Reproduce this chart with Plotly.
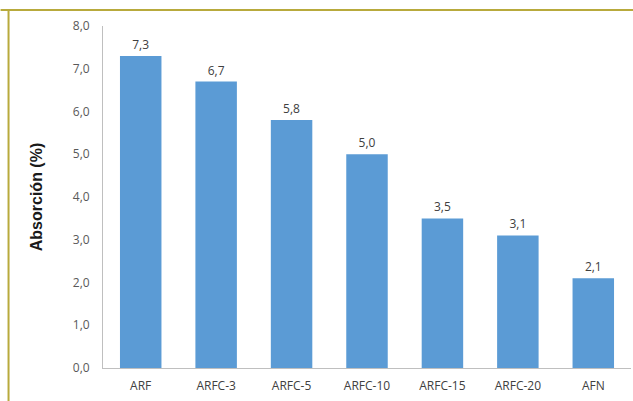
import plotly.graph_objects as go

categories = ["ARF", "ARFC-3", "ARFC-5", "ARFC-10", "ARFC-15", "ARFC-20", "AFN"]
values = [7.3, 6.7, 5.8, 5.0, 3.5, 3.1, 2.1]
labels = ["7,3", "6,7", "5,8", "5,0", "3,5", "3,1", "2,1"]
yticks = [0, 1, 2, 3, 4, 5, 6, 7, 8]
yticklabels = ["0,0", "1,0", "2,0", "3,0", "4,0", "5,0", "6,0", "7,0", "8,0"]

fig = go.Figure(go.Bar(
    x=categories, y=values, text=labels, textposition="outside",
    marker=dict(color="#5b9bd5", line=dict(width=0)),
    textfont=dict(size=12, color="#404040", family="Open Sans"),
    cliponaxis=False,
))

fig.update_layout(
    width=633, height=401,
    margin=dict(l=103, r=2, t=26, b=33),
    paper_bgcolor="white", plot_bgcolor="white",
    bargap=0.45,
    showlegend=False,
    font=dict(family="Open Sans", size=12, color="#595959"),
    xaxis=dict(showline=True, linecolor="#bfbfbf", linewidth=1, ticks="",
               ticklabelstandoff=7,
               tickfont=dict(size=12, color="#404040")),
    yaxis=dict(range=[0, 8], tickvals=yticks, ticktext=yticklabels,
               showgrid=False, zeroline=False, showline=True, linecolor="#bfbfbf",
               linewidth=1, ticks="", ticklen=0, ticklabelstandoff=10,
               tickfont=dict(size=12, color="#595959"),
               title=dict(text="<b>Absorción (%)</b>", font=dict(size=16, color="#1a1a1a", family="Liberation Sans"),
                          standoff=26)),
    shapes=[
        dict(type="line", xref="paper", yref="paper", x0=-103/531, x1=1.01, y0=1+16/342, y1=1+16/342,
             line=dict(color="#b8aa3c", width=2)),
        dict(type="line", xref="paper", yref="paper", x0=-95/531, x1=-95/531, y0=1+16/342, y1=-33/342,
             line=dict(color="#b8aa3c", width=2)),
    ],
)

fig.write_html("out.html")
